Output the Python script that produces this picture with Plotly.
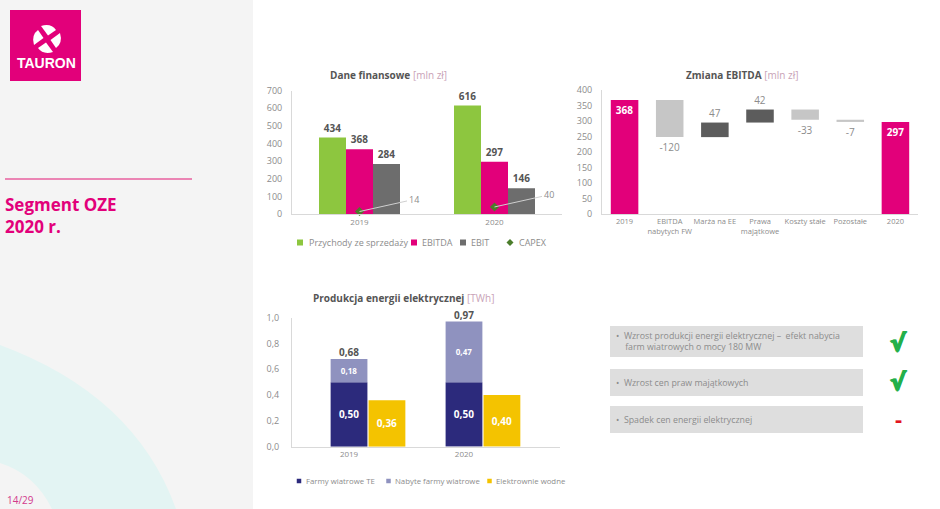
import plotly.graph_objects as go

W, H = 940, 509


def px(x):
    return x / W


def py(y):
    return 1 - y / H


# ---------------- data ----------------
fin_years = ["2019", "2020"]
fin_series = ["Przychody ze sprzedaży", "EBITDA", "EBIT"]
revenue = [434, 616]
ebitda = [368, 297]
ebit = [284, 146]
capex = [14, 40]

wf_labels = ["2019", "EBITDA<br>nabytych FW", "Marża na EE", "Prawa<br>majątkowe",
             "Koszty stałe", "Pozostałe", "2020"]
wf_start = 368
wf_changes = [-120, 47, 42, -33, -7]
wf_end = 297

prod_years = ["2019", "2020"]
prod_series = ["Farmy wiatrowe TE", "Nabyte farmy wiatrowe", "Elektrownie wodne"]
wind_te = [0.50, 0.50]
wind_acquired = [0.18, 0.47]
hydro = [0.36, 0.40]

bullets = ["Wzrost produkcji energii elektrycznej –  efekt nabycia",
           "Wzrost cen praw majątkowych",
           "Spadek cen energii elektrycznej"]
bullet_cont = "farm wiatrowych o mocy 180 MW"

# ---------------- colours ----------------
GREEN = "#8dc63f"
PINK = "#e2007a"
EBIT_GRAY = "#6d6d6d"
CAPEX_GREEN = "#4b7d2b"
UP_GRAY = "#5c5c5c"
DOWN_GRAY = "#c6c6c6"
NAVY = "#2c2a7c"
LAVENDER = "#8f92bf"
YELLOW = "#f4c300"
TICK = "#8c8c8c"
LABEL = "#555555"
FONT = "Open Sans"


def fmt_pl(v):
    return f"{v:.2f}".replace(".", ",")


fig = go.Figure()

# ---------------- chart 1 : Dane finansowe ----------------
fin_values = [revenue, ebitda, ebit]
fin_colors = [GREEN, PINK, EBIT_GRAY]
for name, vals, col, off in zip(fin_series, fin_values, fin_colors, [-0.3, -0.1, 0.1]):
    fig.add_trace(go.Bar(x=fin_years, y=vals, offset=off, width=0.2, marker_color=col,
                         marker_line_width=0, text=[str(v) for v in vals],
                         textposition="outside", cliponaxis=False,
                         textfont=dict(size=10, color=LABEL, weight=700, family=FONT),
                         showlegend=False, xaxis="x", yaxis="y", name=name))

fig.add_trace(go.Scatter(x=fin_years, y=capex, mode="markers", name="CAPEX",
                         marker=dict(symbol="diamond", size=7, color=CAPEX_GREEN),
                         showlegend=False, xaxis="x", yaxis="y", cliponaxis=False))
for i, v in enumerate(capex):
    fig.add_annotation(x=i, y=v, xref="x", yref="y", text=str(v), showarrow=True,
                       ax=54, ay=-12, arrowhead=0, arrowwidth=1, arrowcolor="#cfcfcf",
                       font=dict(size=9, color=TICK, family=FONT))

# ---------------- chart 2 : Zmiana EBITDA ----------------
bases = []
cum = wf_start
for d in wf_changes:
    bases.append(cum)
    cum += d
mid_labels = wf_labels[1:-1]
ups = [(l, d, b) for l, d, b in zip(mid_labels, wf_changes, bases) if d > 0]
downs = [(l, d, b) for l, d, b in zip(mid_labels, wf_changes, bases) if d < 0]

fig.add_trace(go.Bar(x=[wf_labels[0], wf_labels[-1]], y=[wf_start, wf_end], offset=-0.305,
                     width=0.61, marker_color=PINK, marker_line_width=0,
                     text=[str(wf_start), str(wf_end)], textposition="inside",
                     insidetextanchor="end", textangle=0,
                     textfont=dict(size=10, color="white", weight=700, family=FONT),
                     showlegend=False, xaxis="x2", yaxis="y2", name="EBITDA"))
fig.add_trace(go.Bar(x=[u[0] for u in ups], y=[u[1] for u in ups], base=[u[2] for u in ups],
                     offset=-0.305, width=0.61, marker_color=UP_GRAY, marker_line_width=0,
                     text=[str(u[1]) for u in ups], textposition="outside", cliponaxis=False,
                     textfont=dict(size=10, color=TICK, family=FONT),
                     showlegend=False, xaxis="x2", yaxis="y2", name="Wzrost"))
fig.add_trace(go.Bar(x=[u[0] for u in downs], y=[u[1] for u in downs],
                     base=[u[2] for u in downs], offset=-0.305, width=0.61,
                     marker_color=DOWN_GRAY, marker_line_width=0,
                     text=[str(u[1]) for u in downs], textposition="outside", cliponaxis=False,
                     textfont=dict(size=10, color=TICK, family=FONT),
                     showlegend=False, xaxis="x2", yaxis="y2", name="Spadek"))

# ---------------- chart 3 : Produkcja energii ----------------
prod_colors = [NAVY, LAVENDER, YELLOW]
fig.add_trace(go.Bar(x=prod_years, y=wind_te, offset=-0.16, width=0.32, marker_color=NAVY,
                     marker_line_width=0, text=[fmt_pl(v) for v in wind_te],
                     textposition="inside", textangle=0, insidetextanchor="middle",
                     textfont=dict(size=10, color="white", weight=700, family=FONT),
                     showlegend=False, xaxis="x3", yaxis="y3", name=prod_series[0]))
fig.add_trace(go.Bar(x=prod_years, y=wind_acquired, base=wind_te, offset=-0.16, width=0.32,
                     marker_color=LAVENDER, marker_line_width=0,
                     text=[fmt_pl(v) for v in wind_acquired], textposition="inside",
                     textangle=0, insidetextanchor="middle",
                     textfont=dict(size=8, color="white", weight=700, family=FONT),
                     showlegend=False, xaxis="x3", yaxis="y3", name=prod_series[1]))
fig.add_trace(go.Bar(x=prod_years, y=hydro, offset=0.17, width=0.32, marker_color=YELLOW,
                     marker_line_width=0, text=[fmt_pl(v) for v in hydro],
                     textposition="inside", textangle=0, insidetextanchor="middle",
                     textfont=dict(size=10, color="white", weight=700, family=FONT),
                     showlegend=False, xaxis="x3", yaxis="y3", name=prod_series[2]))
totals = [a + b for a, b in zip(wind_te, wind_acquired)]
fig.add_trace(go.Scatter(x=prod_years, y=totals, mode="text", text=[fmt_pl(v) for v in totals],
                         textposition="top center", cliponaxis=False,
                         textfont=dict(size=10, color=LABEL, weight=700, family=FONT),
                         showlegend=False, xaxis="x3", yaxis="y3", hoverinfo="skip"))

# ---------------- axes ----------------
axis_common = dict(showgrid=False, zeroline=False, showline=True, linecolor="#d9d9d9",
                   linewidth=1, ticks="", tickfont=dict(size=9, color=TICK, family=FONT),
                   fixedrange=True, automargin=False)
xcat = dict(axis_common, type="category", tickangle=0,
            tickfont=dict(size=8, color=TICK, family=FONT))

fig.update_layout(
    xaxis=dict(xcat, domain=[px(292), px(562)], range=[-0.5, 1.5], anchor="y",
               categoryorder="array", categoryarray=fin_years),
    yaxis=dict(axis_common, domain=[py(214), py(90.7)], range=[0, 700], dtick=100,
               anchor="x", ticklabelstandoff=7),
    xaxis2=dict(xcat, domain=[px(602), px(918)], range=[-0.5, 6.5], anchor="y2",
                categoryorder="array", categoryarray=wf_labels,
                tickfont=dict(size=7.5, color=TICK, family=FONT)),
    yaxis2=dict(axis_common, domain=[py(214), py(90)], range=[0, 400], dtick=50,
                anchor="x2", ticklabelstandoff=7),
    xaxis3=dict(xcat, domain=[px(292), px(560)], range=[-0.496, 1.835], anchor="y3",
                categoryorder="array", categoryarray=prod_years),
    yaxis3=dict(axis_common, domain=[py(446.7), py(317.7)], range=[0, 1.0], dtick=0.2,
                tickformat=".1f", anchor="x3", ticklabelstandoff=10),
    separators=", ",
    barmode="overlay",
    width=W, height=H,
    margin=dict(l=0, r=0, t=0, b=0, autoexpand=False),
    paper_bgcolor="white", plot_bgcolor="rgba(0,0,0,0)",
    font=dict(family=FONT, color=TICK),
    showlegend=False,
)

# ---------------- chart titles ----------------
for text, x, y in [("<b>Dane finansowe</b> <span style='color:#c9a3b7'>[mln zł]</span>", 388, 75),
                   ("<b>Zmiana EBITDA</b> <span style='color:#c9a3b7'>[mln zł]</span>", 742, 75),
                   ("<b>Produkcja energii elektrycznej</b> <span style='color:#c9a3b7'>[TWh]</span>", 403, 298)]:
    fig.add_annotation(x=px(x), y=py(y), xref="paper", yref="paper", text=text, showarrow=False,
                       xanchor="center", yanchor="middle",
                       font=dict(size=10, color=LABEL, family=FONT))

# ---------------- slide decoration ----------------
shapes = []
shapes.append(dict(type="rect", xref="paper", yref="paper", x0=0, x1=px(253), y0=0, y1=1,
                   fillcolor="#f4f4f4", line_width=0, layer="below"))


def P(x, y):
    return f"{px(x):.5f},{py(y):.5f}"


swoosh = (f"M {P(0,345)} Q {P(135,395)} {P(176,509)} L {P(52,509)} "
          f"Q {P(35,474)} {P(0,463)} Z")
shapes.append(dict(type="path", xref="paper", yref="paper", path=swoosh,
                   fillcolor="#e3f4f3", line_width=0, layer="below"))
# logo
shapes.append(dict(type="rect", xref="paper", yref="paper", x0=px(10), x1=px(81),
                   y0=py(81), y1=py(10), fillcolor=PINK, line_width=0, layer="below"))
cx, cy = 47, 39
blade = [(1, -3.5), (-6, -13), (4, -16), (9, -9)]
for k in range(4):
    pts = []
    for (bx, by) in blade:
        for _ in range(k):
            bx, by = -by, bx
        pts.append((cx + bx, cy + by))
    path = f"M {P(*pts[0])} L {P(*pts[1])} Q {P(*pts[2])} {P(*pts[3])} Z"
    shapes.append(dict(type="path", xref="paper", yref="paper", path=path,
                       fillcolor="white", line_width=0, layer="below"))
# pink rule
shapes.append(dict(type="line", xref="paper", yref="paper", x0=px(5), x1=px(192),
                   y0=py(179), y1=py(179), line=dict(color="#e8609f", width=1.5)))
# bullet boxes
for y0, y1 in [(326, 357), (369, 396), (406, 433)]:
    shapes.append(dict(type="rect", xref="paper", yref="paper", x0=px(610), x1=px(863),
                       y0=py(y1), y1=py(y0), fillcolor="#dedede", line_width=0, layer="below"))


# legend-style keys
def square(xc, yc, s, col):
    return dict(type="rect", xref="paper", yref="paper", x0=px(xc - s / 2), x1=px(xc + s / 2),
                y0=py(yc + s / 2), y1=py(yc - s / 2), fillcolor=col, line_width=0)


leg1_x = [300, 414, 463]
for xc, col in zip(leg1_x, fin_colors):
    shapes.append(square(xc, 242.5, 6, col))
dx, dy = 510, 242.5
shapes.append(dict(type="path", xref="paper", yref="paper",
                   path=f"M {P(dx, dy-3.5)} L {P(dx+3.5, dy)} L {P(dx, dy+3.5)} L {P(dx-3.5, dy)} Z",
                   fillcolor=CAPEX_GREEN, line_width=0))
leg2_x = [299, 388.5, 489.5]
for xc, col in zip(leg2_x, prod_colors):
    shapes.append(square(xc, 481, 4.5, col))
fig.update_layout(shapes=shapes)

for name, xt in zip(fin_series + ["CAPEX"], [307, 420, 469, 517]):
    fig.add_annotation(x=px(xt), y=py(242.5), xref="paper", yref="paper", text=name,
                       showarrow=False, xanchor="left", yanchor="middle",
                       font=dict(size=9, color=TICK, family=FONT))
for name, xt in zip(prod_series, [304, 393, 494]):
    fig.add_annotation(x=px(xt), y=py(481), xref="paper", yref="paper", text=name,
                       showarrow=False, xanchor="left", yanchor="middle",
                       font=dict(size=7.8, color=TICK, family=FONT))

fig.add_annotation(x=px(46), y=py(63), xref="paper", yref="paper", text="<b>TAURON</b>",
                   showarrow=False, xanchor="center", yanchor="middle",
                   font=dict(size=14, color="white", family="Liberation Sans"))
fig.add_annotation(x=px(3), y=py(204), xref="paper", yref="paper", text="<b>Segment OZE</b>",
                   showarrow=False, xanchor="left", font=dict(size=17, color=PINK, family=FONT))
fig.add_annotation(x=px(3), y=py(226), xref="paper", yref="paper", text="<b>2020 r.</b>",
                   showarrow=False, xanchor="left", font=dict(size=17, color=PINK, family=FONT))
fig.add_annotation(x=px(5), y=py(500), xref="paper", yref="paper", text="14/29",
                   showarrow=False, xanchor="left", yanchor="middle",
                   font=dict(size=10, color="#d23a8c", family=FONT))

texts = [f"•&nbsp;&nbsp;{bullets[0]}<br>&nbsp;&nbsp;&nbsp;&nbsp;{bullet_cont}",
         f"•&nbsp;&nbsp;{bullets[1]}",
         f"•&nbsp;&nbsp;{bullets[2]}"]
for text, yc in zip(texts, [341, 382.5, 419.5]):
    fig.add_annotation(x=px(614), y=py(yc), xref="paper", yref="paper", text=text,
                       showarrow=False, xanchor="left", align="left", yanchor="middle",
                       font=dict(size=8.8, color=TICK, family=FONT))

CHECK = "#23b04a"
for yc in [343, 382]:
    fig.add_annotation(x=px(898), y=py(yc), xref="paper", yref="paper", text="<b>√</b>",
                       showarrow=False, xanchor="center", yanchor="middle",
                       font=dict(size=24, color=CHECK, family="DejaVu Sans",
                                 shadow=f"1px 0 0 {CHECK}, -1px 0 0 {CHECK}, 0 1px 0 {CHECK}"))
fig.add_annotation(x=px(898), y=py(418), xref="paper", yref="paper", text="<b>-</b>",
                   showarrow=False, xanchor="center", yanchor="middle",
                   font=dict(size=22, color="#e3141e", family=FONT))

fig.write_html("out.html", config={"displayModeBar": False},
               post_script="document.body.style.margin='0';document.body.style.overflow='hidden';")
